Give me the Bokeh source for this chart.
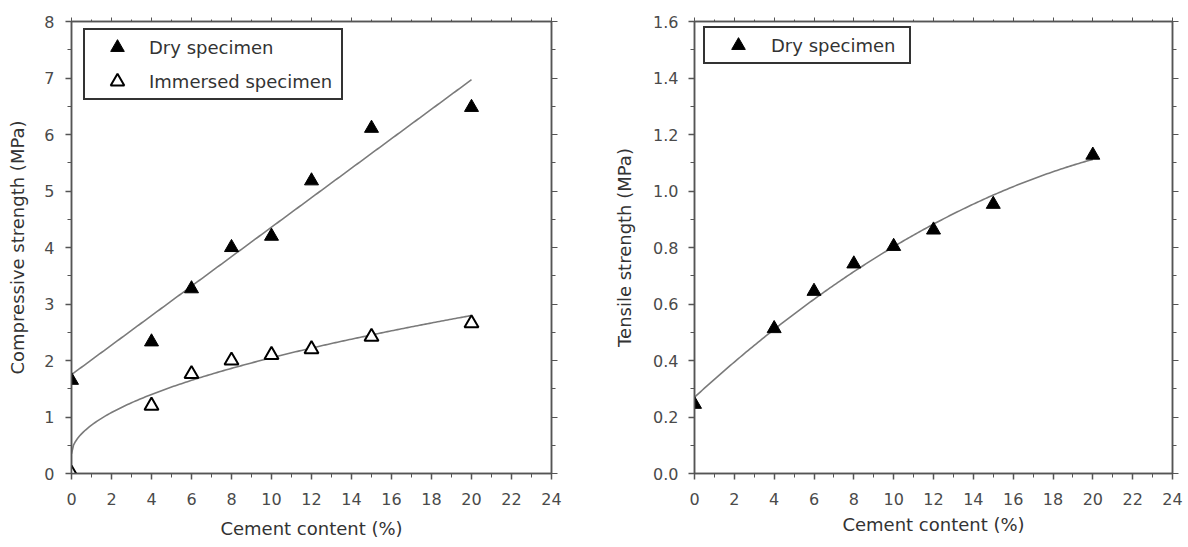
import numpy as np
from bokeh.plotting import figure
from bokeh.models import (Range1d, LinearAxis, Legend, LegendItem, FixedTicker,
                          PrintfTickFormatter)
from bokeh.layouts import row
from bokeh.embed import file_html
from bokeh.resources import INLINE

# ---- data -------------------------------------------------------------
cement = [0, 4, 6, 8, 10, 12, 15, 20]                       # cement content (%)
comp_dry = [1.65, 2.33, 3.27, 4.0, 4.2, 5.18, 6.11, 6.48]    # compressive, dry (MPa)
comp_immersed = [0.0, 1.2, 1.76, 2.0, 2.1, 2.2, 2.42, 2.66]  # compressive, immersed (MPa)
tensile_dry = [0.245, 0.513, 0.645, 0.742, 0.804, 0.862, 0.953, 1.127]  # tensile, dry (MPa)

x_ticks = [0, 2, 4, 6, 8, 10, 12, 14, 16, 18, 20, 22, 24]
x_minor = list(range(0, 25))
comp_ticks = [0, 1, 2, 3, 4, 5, 6, 7, 8]
comp_minor = [i * 0.5 for i in range(17)]
tensile_ticks = [0.0, 0.2, 0.4, 0.6, 0.8, 1.0, 1.2, 1.4, 1.6]
tensile_minor = [i * 0.1 for i in range(17)]

# trend-line coefficients
comp_dry_fit = (1.75, 0.261)               # a + b*x
comp_imm_fit = (0.35, 0.506, 0.526)        # a + b*x**c
tensile_fit = (0.27, 0.0645, -0.00112)     # a + b*x + c*x**2
fit_x = np.linspace(0, 20, 201)

FONT = "DejaVu Sans"
AXIS_COLOR = "#555555"
TEXT_COLOR = "#333333"
TICK_COLOR = "#4a4a4a"
FIT_COLOR = "#7a7a7a"
LEGEND_EDGE = "#333333"


def style_main_axis(ax, ticks, minor, standoff, label_standoff):
    ax.ticker = FixedTicker(ticks=ticks, minor_ticks=minor)
    ax.axis_line_color = AXIS_COLOR
    ax.axis_line_width = 1.5
    ax.major_tick_line_color = AXIS_COLOR
    ax.major_tick_line_width = 1.5
    ax.minor_tick_line_color = AXIS_COLOR
    ax.major_tick_out = 6
    ax.major_tick_in = 0
    ax.minor_tick_out = 4
    ax.minor_tick_in = 0
    ax.major_label_text_font = FONT
    ax.major_label_text_font_size = "16px"
    ax.major_label_text_color = TICK_COLOR
    ax.major_label_standoff = standoff
    ax.axis_label_text_font = FONT
    ax.axis_label_text_font_size = "18px"
    ax.axis_label_text_font_style = "normal"
    ax.axis_label_text_color = TEXT_COLOR
    ax.axis_label_standoff = label_standoff


def tick_only_axis(ticks, minor, out_major, out_minor):
    return LinearAxis(
        ticker=FixedTicker(ticks=ticks, minor_ticks=minor),
        axis_line_color=AXIS_COLOR, axis_line_width=1.5,
        major_tick_line_color=AXIS_COLOR, minor_tick_line_color=AXIS_COLOR,
        major_tick_out=out_major, major_tick_in=0,
        minor_tick_out=out_minor, minor_tick_in=0,
        major_label_text_color=None, major_label_text_font_size="1px",
        major_label_standoff=0,
    )


def base_figure(width, y_max, borders):
    left, right, top, bottom = borders
    p = figure(width=width, height=547, x_range=Range1d(0, 24), y_range=Range1d(0, y_max),
               output_backend="svg", toolbar_location=None,
               min_border_left=left, min_border_right=right,
               min_border_top=top, min_border_bottom=bottom)
    p.xgrid.visible = False
    p.ygrid.visible = False
    p.outline_line_color = AXIS_COLOR
    p.outline_line_width = 1.5
    p.background_fill_color = "white"
    p.border_fill_color = "white"
    return p


# ---- compressive strength --------------------------------------------
p1 = base_figure(600, 8, (71, 49, 16, 74))
style_main_axis(p1.xaxis[0], x_ticks, x_minor, 13, 10)
style_main_axis(p1.yaxis[0], comp_ticks, comp_minor, 11, 13)
p1.xaxis[0].axis_label = "Cement content (%)"
p1.yaxis[0].axis_label = "Compressive strength (MPa)"
p1.add_layout(tick_only_axis(x_ticks, x_minor, 4, 2), "above")
p1.add_layout(tick_only_axis(comp_ticks, comp_minor, 6, 4), "right")

p1.line(fit_x, comp_dry_fit[0] + comp_dry_fit[1] * fit_x,
        line_color=FIT_COLOR, line_width=1.6)
p1.line(fit_x, comp_imm_fit[0] + comp_imm_fit[1] * fit_x ** comp_imm_fit[2],
        line_color=FIT_COLOR, line_width=1.6)
r_dry = p1.scatter(cement, comp_dry, marker="triangle", size=14,
                   fill_color="black", line_color="black")
r_imm = p1.scatter(cement, comp_immersed, marker="triangle", size=14,
                   fill_color="white", line_color="black", line_width=2)

legend1 = Legend(
    items=[LegendItem(label="Dry specimen", renderers=[r_dry]),
           LegendItem(label="Immersed specimen", renderers=[r_imm])],
    location=(12, 373), padding=0, spacing=0, margin=0,
    glyph_width=64, glyph_height=34, label_height=34, label_standoff=0,
    label_width=192,
    label_text_font=FONT, label_text_font_size="18px", label_text_color=TEXT_COLOR,
    border_line_color=LEGEND_EDGE, border_line_width=2, border_line_alpha=1.0,
    background_fill_alpha=1,
)
p1.add_layout(legend1)

# ---- tensile strength -------------------------------------------------
p2 = base_figure(588, 1.6, (94, 16, 21, 69))
style_main_axis(p2.xaxis[0], x_ticks, x_minor, 13, 6)
style_main_axis(p2.yaxis[0], tensile_ticks, tensile_minor, 10, 15)
p2.yaxis[0].formatter = PrintfTickFormatter(format="%.1f")
p2.xaxis[0].axis_label = "Cement content (%)"
p2.yaxis[0].axis_label = "Tensile strength (MPa)"
p2.add_layout(tick_only_axis(x_ticks, x_minor, 4, 2), "above")
p2.add_layout(tick_only_axis(tensile_ticks, tensile_minor, 6, 4), "right")

p2.line(fit_x, tensile_fit[0] + tensile_fit[1] * fit_x + tensile_fit[2] * fit_x ** 2,
        line_color=FIT_COLOR, line_width=1.6)
r_ten = p2.scatter(cement, tensile_dry, marker="triangle", size=14,
                   fill_color="black", line_color="black")

legend2 = Legend(
    items=[LegendItem(label="Dry specimen", renderers=[r_ten])],
    location=(9, 409), padding=0, spacing=0, margin=0,
    glyph_width=66, glyph_height=34, label_height=34, label_standoff=0,
    label_width=138,
    label_text_font=FONT, label_text_font_size="18px", label_text_color=TEXT_COLOR,
    border_line_color=LEGEND_EDGE, border_line_width=2, border_line_alpha=1.0,
    background_fill_alpha=1,
)
p2.add_layout(legend2)

layout = row(p1, p2)
open("out.html", "w").write(file_html(layout, INLINE))
